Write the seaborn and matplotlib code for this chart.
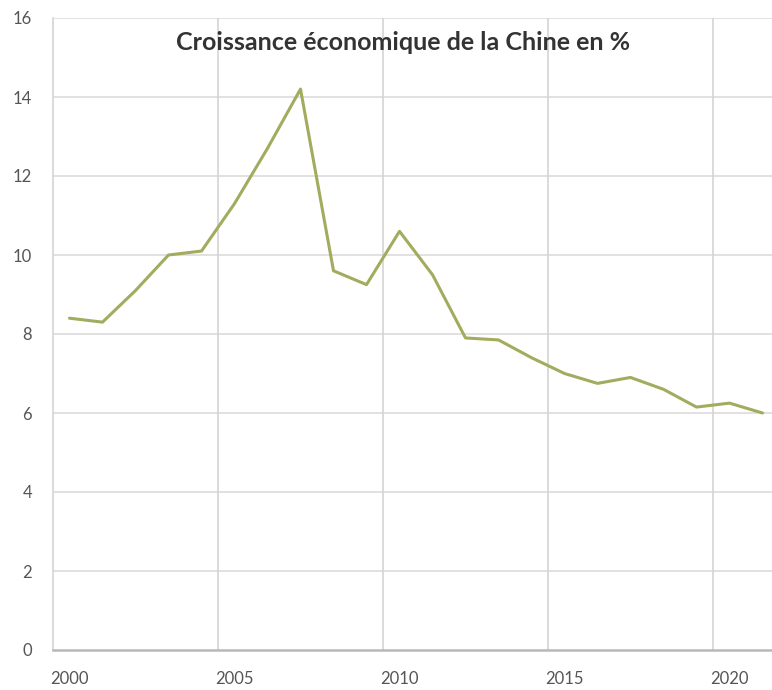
import matplotlib
matplotlib.use("Agg")
import matplotlib.pyplot as plt
import seaborn as sns
import pandas as pd

years = [2000, 2001, 2002, 2003, 2004, 2005, 2006, 2007, 2008, 2009, 2010,
         2011, 2012, 2013, 2014, 2015, 2016, 2017, 2018, 2019, 2020, 2021]
growth = [8.4, 8.3, 9.1, 10.0, 10.1, 11.3, 12.7, 14.2, 9.6, 9.25, 10.6,
          9.5, 7.9, 7.85, 7.4, 7.0, 6.75, 6.9, 6.6, 6.15, 6.25, 6.0]
y_ticks = [0, 2, 4, 6, 8, 10, 12, 14, 16]
x_labels = [2000, 2005, 2010, 2015, 2020]
title = "Croissance économique de la Chine en %"

sns.set_theme(style="white")
plt.rcParams["font.family"] = ["Lato", "DejaVu Sans"]

df = pd.DataFrame({"year": years, "growth": growth})

fig = plt.figure(figsize=(7.72, 6.9), dpi=100)
W, H = 772, 690
left, right, top, bottom = 53, 779, 18, 650
ax = fig.add_axes([left / W, (H - bottom) / H, (right - left) / W, (bottom - top) / H])

sns.lineplot(data=df, x="year", y="growth", ax=ax, color="#a3ab5e", linewidth=2.2)

ax.set_xlim(years[0] - 0.5, years[-1] + 0.5)
ax.set_ylim(0, 16)
ax.set_yticks(y_ticks)
ax.set_xticks(x_labels)
ax.set_xticks([2004.5, 2009.5, 2014.5, 2019.5], minor=True)
ax.grid(False)
for v in y_ticks[1:]:
    ax.axhline(v, color="#dcdcdc", linewidth=1.2, zorder=0)
ax.grid(True, which="minor", axis="x", color="#d4d4d4", linewidth=1.2, zorder=0)
ax.tick_params(which="both", length=0)
ax.tick_params(axis="y", pad=15, labelsize=12, labelcolor="#555555")
ax.tick_params(axis="x", pad=15, labelsize=12, labelcolor="#555555")
ax.set_xlabel("")
ax.set_ylabel("")

for s in ["top", "right"]:
    ax.spines[s].set_visible(False)
ax.spines["left"].set_color("#d4d4d4")
ax.spines["left"].set_linewidth(1.2)
ax.spines["bottom"].set_color("#b8b8b8")
ax.spines["bottom"].set_linewidth(1.8)

fig.text(403 / W, 1 - 42 / H, title, ha="center", va="center",
         fontsize=18, fontweight="bold", color="#333333")

fig.savefig("out.png", dpi=100)
